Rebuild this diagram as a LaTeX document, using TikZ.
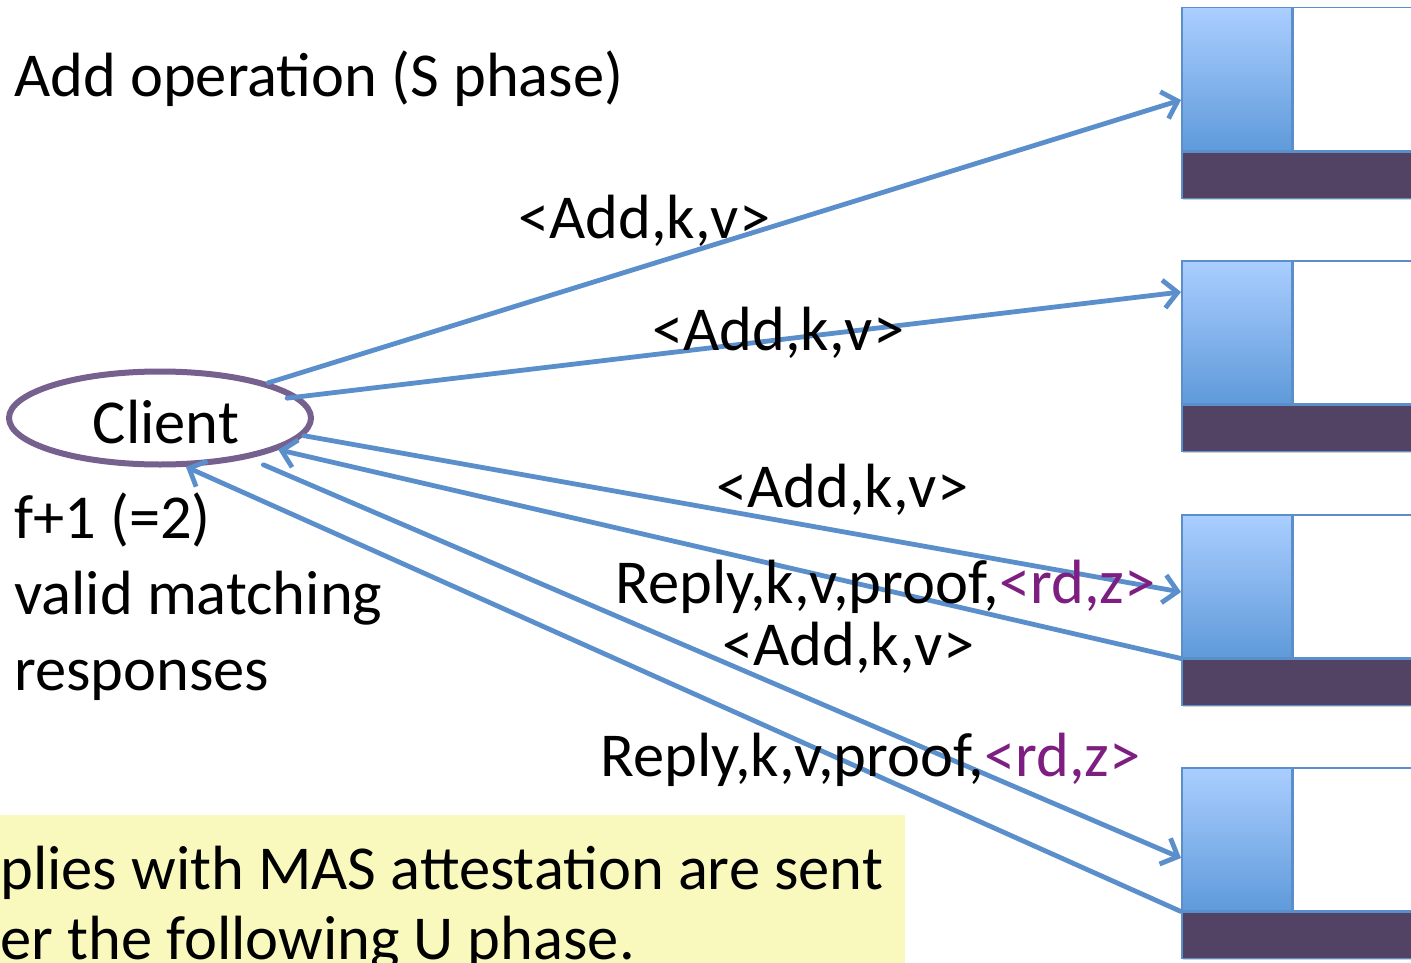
\documentclass[tikz,border=0pt]{standalone}
\usepackage{fontspec}
\setmainfont{Carlito}
\usetikzlibrary{arrows.meta,shapes.geometric}
\definecolor{link}{HTML}{5B8FCB}
\definecolor{ring}{HTML}{76608E}
\definecolor{bar}{HTML}{524263}
\definecolor{paneltop}{HTML}{AACEFF}
\definecolor{panelbot}{HTML}{5F9ADA}
\definecolor{note}{HTML}{F9F9BD}
\definecolor{tag}{HTML}{7E1E80}
\tikzset{
  lbl/.style={anchor=base west, inner sep=0pt, font=\fontsize{62.5}{75}\selectfont},
  msg/.style={draw=link, line width=4.8pt, line cap=round,
    -{Straight Barb[length=14pt,width=28pt,line width=4.8pt]}},
  panel/.style={rectangle, anchor=north west, inner sep=0pt, draw=link, line width=1.5pt,
    minimum height=143pt},
  slab/.style={rectangle, anchor=north west, inner sep=0pt, draw=link, line width=1.5pt,
    fill=bar, minimum width=251pt, minimum height=46pt},
}
\begin{document}
\begin{tikzpicture}[x=1pt,y=-1pt]
\useasboundingbox (0,0) rectangle (1411,963);
\clip (0,0) rectangle (1411,963);
\fill[white] (0,0) rectangle (1411,963);

% replicas on the right edge
\foreach \t [count=\k] in {7,260,514,767}{
  \fill[black, opacity=0.18] (1183,\t+4) rectangle (1420,\t+193);
  \node[panel, top color=paneltop, bottom color=panelbot, minimum width=110pt] (b\k) at (1181,\t) {};
  \node[panel, fill=white, minimum width=140pt] (w\k) at (b\k.north east) {};
  \node[slab] (d\k) at (b\k.south west) {};
}

% client
\node[ellipse, draw=ring, line width=6pt, minimum width=302pt, minimum height=93pt, inner sep=0pt] (client) at (160,418) {};
\node[lbl, anchor=base] (clientname) at (166,443) {Client};

% messages
\draw[msg] (client.18) -- ([yshift=-93pt]b1.north west);
\draw[msg] ([xshift=-14pt]client.8) -- ([yshift=-32pt]b2.north west);
\draw[msg] (client.-7) -- ([yshift=-78pt]b3.north west);
\draw[msg] (b3.south west) -- (client.-15);
\draw[msg] ([xshift=16pt,yshift=-6pt]client.-25) -- ([yshift=-91pt]b4.north west);
\draw[msg] (b4.south west) -- (client.-62);

% labels
\node[lbl] (title) at (14,97) {Add operation (S phase)};
\node[lbl] (m1) at (518,238) {<Add,k,v>};
\node[lbl] (m2) at (652,350) {<Add,k,v>};
\node[lbl] (m3) at (716,507) {<Add,k,v>};
\node[lbl] (r3) at (615,603) {Reply,k,v,proof,\textcolor{tag}{<rd,z>}};
\node[lbl] (m4) at (722,665) {<Add,k,v>};
\node[lbl] (r4) at (600,776) {Reply,k,v,proof,\textcolor{tag}{<rd,z>}};

\node[lbl] (q1) at (14,538) {f+1 (=2)};
\node[lbl] (q2) at (14,614) {valid matching};
\node[lbl] (q3) at (14,690) {responses};

% note panel
\fill[note] (0,815) rectangle (905,970);
\node[lbl] (n1) at (0,889) {plies with MAS attestation are sent};
\node[lbl] (n2) at (0,959) {er the following U phase.};
\end{tikzpicture}
\end{document}
